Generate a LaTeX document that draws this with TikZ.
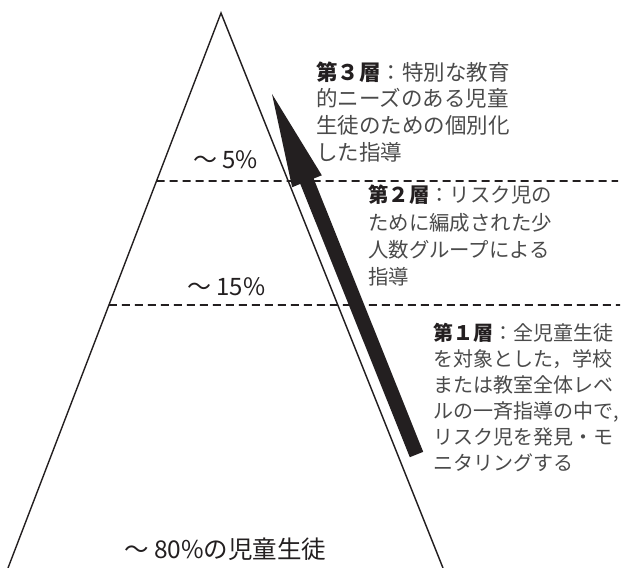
\documentclass[tikz,border=0pt]{standalone}
\usepackage{fontspec}
\newfontfamily\jp{Noto Sans CJK JP}
\usetikzlibrary{calc}
\definecolor{txt}{HTML}{4A4A4A}
\definecolor{ink}{HTML}{231F20}
\begin{document}
\begin{tikzpicture}[x=1pt,y=-1pt,
  edge/.style={line width=1.4pt, draw=ink, line join=miter},
  level/.style={line width=1.7pt, draw=ink, dash pattern=on 8pt off 5pt},
  tier/.style={anchor=base west, inner sep=0pt, align=left, text width=240pt, text=txt},
  pct/.style={anchor=base west, inner sep=0pt, text=ink, font=\jp\fontsize{24}{28}\selectfont},
]
\useasboundingbox (0,0) rectangle (627,568);
% pyramid
\coordinate (apex) at (221,13);
\coordinate (bl) at (8,568);
\coordinate (br) at (443,568);
\draw[edge] (bl) -- (apex) -- (br);
% tier boundaries
\coordinate (d1l) at ($(apex)!0.3027!(bl)$);
\coordinate (d1r) at (618,181);
\coordinate (d2l) at ($(apex)!0.5261!(bl)$);
\coordinate (d2r) at (620,305);
\draw[level] (d1l) -- (d1r);
\draw[level] (d2l) -- (d2r);
% big arrow
\coordinate (tail) at (416.5,454.5);
\coordinate (tip) at (272,94);
\coordinate (hb) at ($(tip)!94pt!(tail)$);
\fill[ink] (tip) -- ($(hb)!16pt!90:(tip)$) -- ($(hb)!7.2pt!90:(tip)$)
  -- ($(tail)!7.2pt!90:(tip)$) -- ($(tail)!7.2pt!-90:(tip)$)
  -- ($(hb)!7.2pt!-90:(tip)$) -- ($(hb)!16pt!-90:(tip)$) -- cycle;
% percentages
\node[pct] (p5) at (193,168) {〜 5\%};
\node[pct] (p15) at (187,295) {〜 15\%};
\node[pct, font=\jp\fontsize{24.5}{28}\selectfont] (p80) at (124,558) {〜 80\%の児童生徒};
% tier texts
\node[tier, font=\jp\fontsize{21.5}{26.7}\selectfont] (t3) at (316,80)
  {{\bfseries\color{ink}第３層}：特別な教育\\的ニーズのある児童\\生徒のための個別化\\した指導};
\node[tier, font=\jp\fontsize{20.4}{27.3}\selectfont] (t2) at (368,202.8)
  {{\bfseries\color{ink}第２層}：リスク児の\\ために編成された少\\人数グループによる\\指導};
\node[tier, font=\jp\fontsize{20}{26}\selectfont] (t1) at (433,340.6)
  {{\bfseries\color{ink}第１層}：全児童生徒\\を対象とした，学校\\または教室全体レベ\\ルの一斉指導の中で,\\リスク児を発見・モ\\ニタリングする};
\end{tikzpicture}
\end{document}
